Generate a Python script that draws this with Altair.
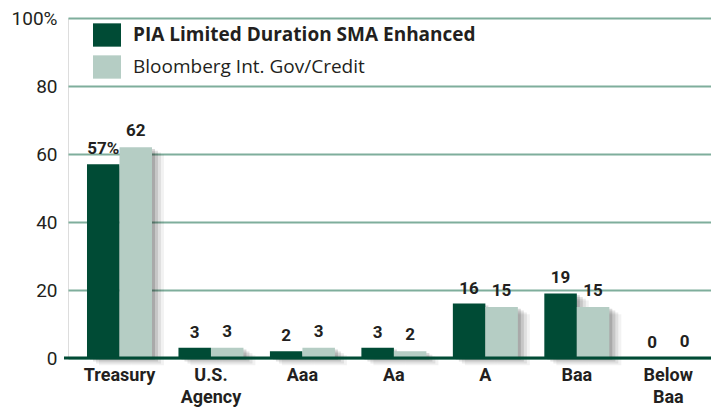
import altair as alt
import pandas as pd

categories = ["Treasury", "U.S. Agency", "Aaa", "Aa", "A", "Baa", "Below Baa"]
pia = [57, 3, 2, 3, 16, 19, 0]
bloomberg = [62, 3, 3, 2, 15, 15, 0]
pia_labels = ["57%", "3", "2", "3", "16", "19", "0"]
bloomberg_labels = ["62", "3", "3", "2", "15", "15", "0"]
series = ["PIA Limited Duration SMA Enhanced", "Bloomberg Int. Gov/Credit"]
y_ticks = [0, 10, 20, 30, 40, 50, 60, 70, 80, 90, 100]

df = pd.DataFrame({"cat": categories, "pia": pia, "bbg": bloomberg,
                   "pia_lab": pia_labels, "bbg_lab": bloomberg_labels,
                   "s_pia": [series[0]] * len(categories),
                   "s_bbg": [series[1]] * len(categories)})

COND = "Roboto, sans-serif"
DARK = "#004b35"
LIGHT = "#b5cdc4"
TXT = "#231f20"
HALF = 32.5
W = 643

xscale = alt.Scale(domain=categories, paddingInner=0.29, paddingOuter=0.16, align=0.65)
x = alt.X("cat:N", scale=xscale, sort=categories, title=None,
          axis=alt.Axis(labelAngle=0, labelFont=COND, labelFontSize=18, labelFontWeight="bold",
                        labelColor=TXT, ticks=False, domain=False, labelPadding=8,
                        labelLineHeight=22, labelBaseline="top",
                        labelExpr="split(datum.value, ' ')"))
yscale = alt.Scale(domain=[0, 100], nice=False)
y_axis = alt.Axis(values=y_ticks, labelFont=COND, labelFontSize=19, labelColor=TXT,
                  ticks=False, domain=False, labelPadding=11,
                  gridColor="#7fae9c", gridWidth=2, gridOpacity=1,
                  labelExpr="datum.value % 20 == 0 ? (datum.value == 100 ? '100%' : datum.value) : ''")
color_scale = alt.Scale(domain=series, range=[DARK, LIGHT])
legend = alt.Legend(title=None, orient="none", legendX=27, legendY=5,
                    symbolType="M-1.2,-1H1.2V1H-1.2Z", symbolSize=544,
                    symbolStrokeWidth=0, symbolOpacity=1,
                    labelFont="Open Sans, Noto Sans, sans-serif", labelFontSize=19,
                    labelColor=TXT, labelOffset=14, rowPadding=8, labelLimit=600,
                    labelFontWeight={"expr": "datum.value == 'PIA Limited Duration SMA Enhanced' ? 'bold' : 'normal'"})

base = alt.Chart(df)

grid = base.mark_bar(opacity=0).encode(
    x=x, y=alt.Y("pia:Q", scale=yscale, title=None, axis=y_axis))

shadows = []
for field, off in [("pia", -HALF / 2), ("bbg", HALF / 2)]:
    for dx, op in [(3, 0.14), (6, 0.11), (9, 0.08), (12, 0.05)]:
        shadows.append(base.mark_bar(color="#000000", opacity=op, width=HALF,
                                     xOffset=off + dx, yOffset=dx * 0.6).encode(
            x=x, y=alt.Y(f"{field}:Q", scale=yscale)))

bar_pia = base.mark_bar(width=HALF, xOffset=-HALF / 2).encode(
    x=x, y=alt.Y("pia:Q", scale=yscale),
    color=alt.Color("s_pia:N", scale=color_scale, legend=legend))
bar_bbg = base.mark_bar(width=HALF, xOffset=HALF / 2).encode(
    x=x, y=alt.Y("bbg:Q", scale=yscale),
    color=alt.Color("s_bbg:N", scale=color_scale, legend=legend))

txt_pia = base.mark_text(font=COND, fontSize=17, fontWeight="bold", color=TXT,
                         baseline="bottom", dy=-6, xOffset=-HALF / 2).encode(
    x=x, y=alt.Y("pia:Q", scale=yscale), text="pia_lab:N")
txt_bbg = base.mark_text(font=COND, fontSize=17, fontWeight="bold", color=TXT,
                         baseline="bottom", dy=-7, xOffset=HALF / 2).encode(
    x=x, y=alt.Y("bbg:Q", scale=yscale), text="bbg_lab:N")

baseline_rule = alt.Chart(pd.DataFrame({"v": [0]})).mark_rule(color=DARK, strokeWidth=3).encode(
    y=alt.Y("v:Q", scale=yscale), x=alt.value(-4), x2=alt.value(W))

chart = alt.layer(grid, *shadows, bar_pia, bar_bbg, txt_pia, txt_bbg, baseline_rule).resolve_scale(
    color="shared").properties(
    width=W, height=340,
    autosize=alt.AutoSizeParams(type="none"),
    padding={"left": 60, "top": 10, "right": 0, "bottom": 53},
).configure_view(stroke=None).configure(background="white")

chart.save("out.html", embed_options={"renderer": "svg", "actions": False})
